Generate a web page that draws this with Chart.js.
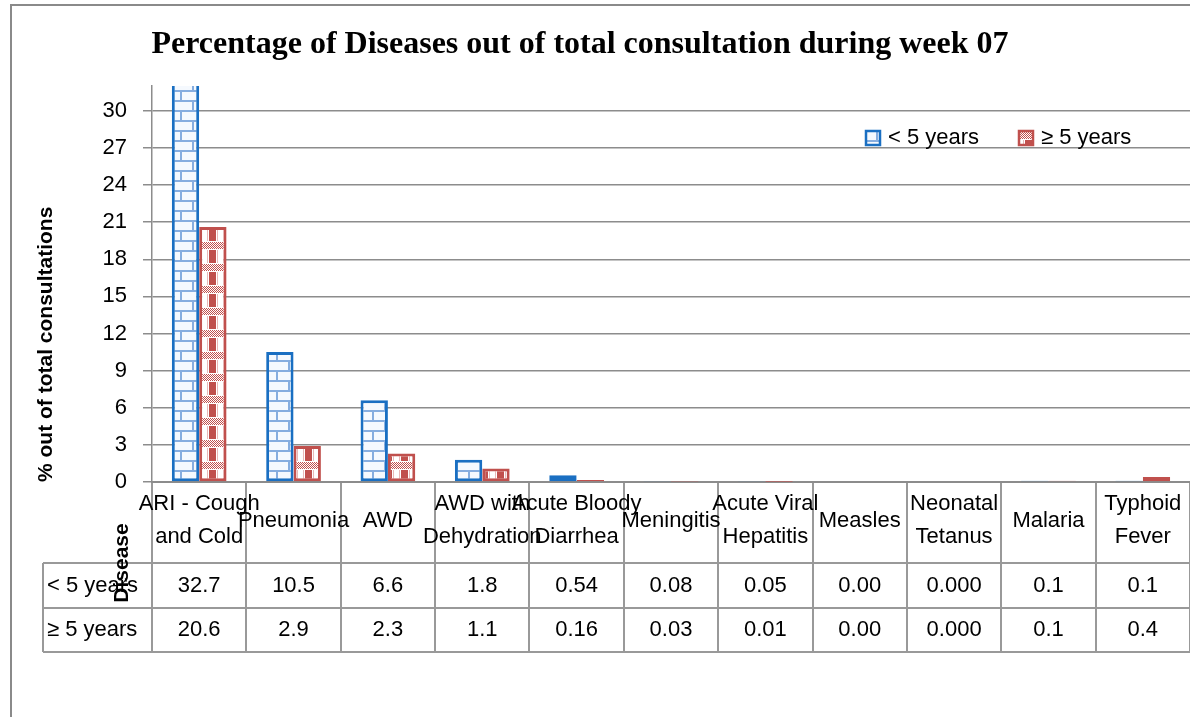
<!DOCTYPE html>
<html>
<head>
<meta charset="utf-8">
<script src="https://cdn.jsdelivr.net/npm/chart.js@4"></script>
<style>
  body { margin: 0; background: #fff; }
  canvas { display: block; }
</style>
</head>
<body>
<canvas id="chart" width="1190" height="717"></canvas>
<script>
const categories = [["ARI - Cough", "and Cold"], "Pneumonia", "AWD", ["AWD with", "Dehydration"], ["Acute Bloody", "Diarrhea"], "Meningitis", ["Acute Viral", "Hepatitis"], "Measles", ["Neonatal", "Tetanus"], "Malaria", ["Typhoid", "Fever"]];
const seriesNames = ["< 5 years", "≥ 5 years"];
const under5 = [32.7, 10.5, 6.6, 1.8, 0.54, 0.08, 0.05, 0.00, 0.000, 0.1, 0.1];
const over5 = [20.6, 2.9, 2.3, 1.1, 0.16, 0.03, 0.01, 0.00, 0.000, 0.1, 0.4];
// table text keeps the source's mixed decimals
const under5Text = ["32.7", "10.5", "6.6", "1.8", "0.54", "0.08", "0.05", "0.00", "0.000", "0.1", "0.1"];
const over5Text = ["20.6", "2.9", "2.3", "1.1", "0.16", "0.03", "0.01", "0.00", "0.000", "0.1", "0.4"];
const titleText = "Percentage of Diseases out of total consultation during week 07";

const BLUE = "#1a6fc2";
const RED = "#c0504d";
const GRID = "#8c8c8c";
const FONT = "'Liberation Sans', Arial, sans-serif";

function brickPattern() {
    const c = document.createElement("canvas");
    c.width = 24; c.height = 20;
    const g = c.getContext("2d");
    g.fillStyle = "#f5f9fe";
    g.fillRect(0, 0, 24, 20);
    g.fillStyle = "#86addf";
    g.fillRect(0, 0, 24, 2);
    g.fillRect(0, 10, 24, 2);
    g.fillRect(0, 0, 2, 10);
    g.fillRect(12, 10, 2, 10);
    return g.createPattern(c, "repeat");
}

function checkPattern() {
    const c = document.createElement("canvas");
    c.width = 16; c.height = 22;
    const g = c.getContext("2d");
    g.fillStyle = "#fff";
    g.fillRect(0, 0, 16, 22);
    g.fillStyle = RED;
    for (let y = 0; y < 7; y++) {
        for (let x = 0; x < 16; x++) {
            if ((x + y) % 2 === 0) g.fillRect(x, y, 1, 1);
        }
    }
    g.fillRect(1, 8, 7, 13);
    g.fillStyle = "#e8b9b8";
    g.fillRect(9, 8, 1, 13);
    g.fillRect(15, 8, 1, 13);
    return g.createPattern(c, "repeat");
}

const bluePat = brickPattern();
const redPat = checkPattern();

const tablePlugin = {
    id: "tablePlugin",
    afterDraw(chart) {
        const ctx = chart.ctx;
        const area = chart.chartArea;
        const x = chart.scales.x;
        ctx.save();

        // outer frame
        ctx.strokeStyle = "#8a8a8a";
        ctx.lineWidth = 2;
        ctx.beginPath();
        ctx.moveTo(11, 717);
        ctx.lineTo(11, 5);
        ctx.lineTo(1190, 5);
        ctx.stroke();

        // title
        ctx.fillStyle = "#000";
        ctx.font = "bold 32px 'Liberation Serif', 'Times New Roman', serif";
        ctx.textAlign = "center";
        ctx.textBaseline = "alphabetic";
        ctx.fillText(titleText, 580, 53);

        // data table grid
        const r0 = area.bottom + 81, r1 = area.bottom + 126, r2 = area.bottom + 170;
        ctx.strokeStyle = "#999";
        ctx.lineWidth = 2;
        ctx.beginPath();
        [r0, r1, r2].forEach(y => { ctx.moveTo(43, y); ctx.lineTo(area.right, y); });
        ctx.moveTo(43, r0); ctx.lineTo(43, r2);
        ctx.moveTo(area.left, r0); ctx.lineTo(area.left, r2);
        ctx.stroke();

        ctx.font = "22px " + FONT;
        ctx.fillStyle = "#000";
        ctx.textBaseline = "middle";
        ctx.textAlign = "left";
        ctx.fillText(seriesNames[0], 47, (r0 + r1) / 2);
        ctx.fillText(seriesNames[1], 47, (r1 + r2) / 2);
        ctx.textAlign = "center";
        categories.forEach((_, i) => {
            const cx = x.getPixelForValue(i);
            ctx.fillText(under5Text[i], cx, (r0 + r1) / 2);
            ctx.fillText(over5Text[i], cx, (r1 + r2) / 2);
        });

        // horizontal axis title
        ctx.save();
        ctx.translate(122, 563);
        ctx.rotate(-Math.PI / 2);
        ctx.font = "bold 21px " + FONT;
        ctx.fillText("Disease", 0, 0);
        ctx.restore();

        // legend
        const items = [[866, 888, bluePat, BLUE], [1019, 1041, redPat, RED]];
        items.forEach((it, i) => {
            ctx.fillStyle = it[2];
            ctx.fillRect(it[0], 131, 14, 14);
            ctx.strokeStyle = it[3];
            ctx.lineWidth = 2.5;
            ctx.strokeRect(it[0], 131, 14, 14);
            ctx.fillStyle = "#000";
            ctx.textAlign = "left";
            ctx.font = "22px " + FONT;
            ctx.fillText(seriesNames[i], it[1], 138);
        });
        ctx.restore();
    }
};

new Chart(document.getElementById("chart"), {
    type: "bar",
    data: {
        labels: categories,
        datasets: [{
            label: seriesNames[0],
            data: under5,
            backgroundColor: bluePat,
            borderColor: BLUE,
            borderWidth: 3,
            borderSkipped: false
        }, {
            label: seriesNames[1],
            data: over5,
            backgroundColor: redPat,
            borderColor: RED,
            borderWidth: 3,
            borderSkipped: false
        }]
    },
    options: {
        responsive: false,
        animation: false,
        layout: { padding: { left: 30, top: 86, right: 0, bottom: 0 } },
        datasets: { bar: { categoryPercentage: 0.58, barPercentage: 1.0, clip: 0 } },
        plugins: { legend: { display: false }, tooltip: { enabled: false } },
        scales: {
            x: {
                afterFit: s => { s.height = 235; },
                grid: { offset: true, drawOnChartArea: false, tickLength: 170, color: "#999", lineWidth: 2 },
                border: { color: GRID, width: 2 },
                ticks: {
                    autoSkip: false, maxRotation: 0, minRotation: 0, crossAlign: "center",
                    padding: -148, color: "#000",
                    font: { family: FONT, size: 22, lineHeight: 1.5 }
                }
            },
            y: {
                min: 0, max: 32,
                afterFit: s => { s.width = 122; },
                grid: { color: GRID, lineWidth: 1.5, tickLength: 9 },
                border: { color: GRID, width: 1.5 },
                ticks: {
                    stepSize: 3, includeBounds: false, padding: 16, color: "#000",
                    font: { family: FONT, size: 22 }
                },
                title: {
                    display: true, text: "% out of total consultations", align: "start",
                    color: "#000", font: { family: FONT, size: 21, weight: "bold" }
                }
            }
        }
    },
    plugins: [tablePlugin]
});
</script>
</body>
</html>
